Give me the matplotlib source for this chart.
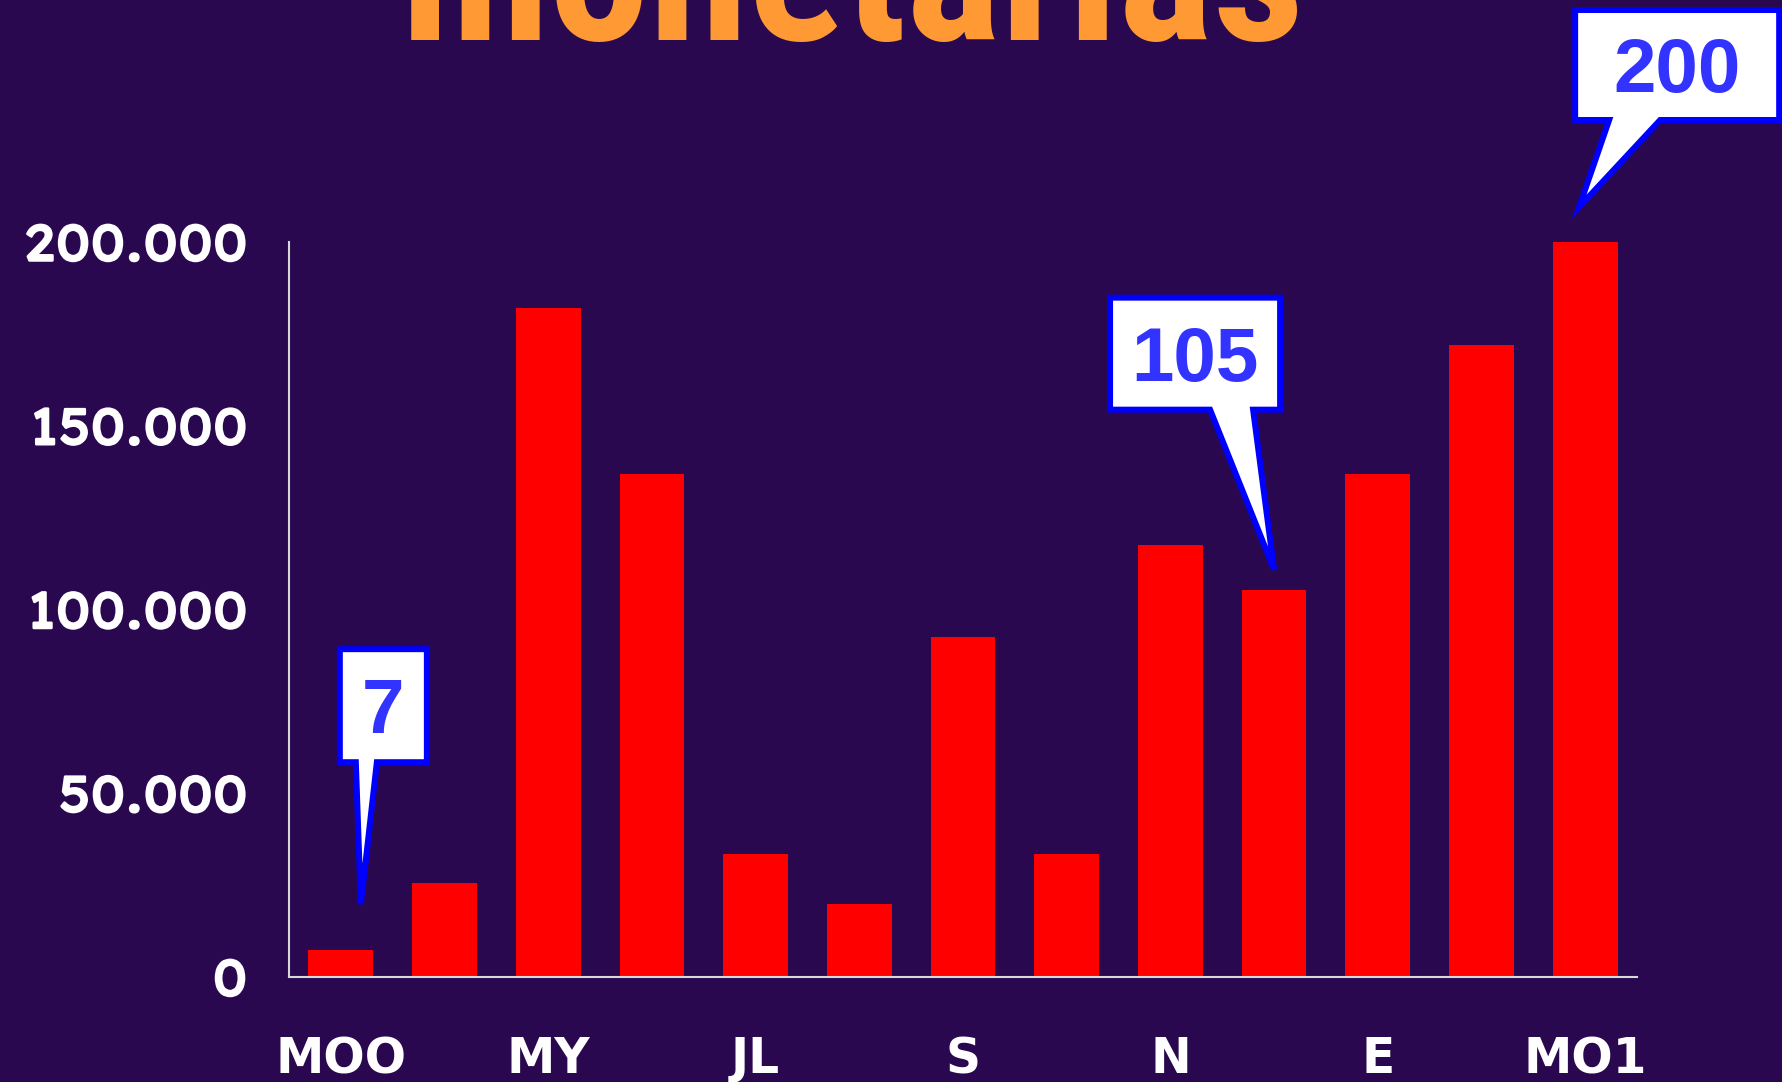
import matplotlib

matplotlib.use("Agg")
import matplotlib.pyplot as plt
import matplotlib.patheffects as pe
from matplotlib import font_manager
from matplotlib.patches import Polygon

# data
bar_values = [7300, 25600, 182000, 137000, 33400, 19800, 92400,
              33400, 117500, 105400, 137000, 171900, 200000]
tick_labels = ["MOO", "MY", "JL", "S", "N", "E", "MO1"]
y_ticks = [0, 50000, 100000, 150000, 200000]
callout_bars = [0, 9, 12]
callout_texts = ["7", "105", "200"]

# callout layout in pixels relative to the tip (image coords, y down):
# tip offset from bar top, box left/right/top/bottom, tail base left/right
callout_layout = [
    dict(tip=(20, -46), box=(-21, 66, -255, -142), base=(-5, 16)),
    dict(tip=(0, -20), box=(-164, 6, -272, -160), base=(-64, -21)),
    dict(tip=(-6, -35), box=(-4, 200, -197, -87), base=(30, 81)),
]

BG = "#2A0850"
W, H = 1782, 1082

installed = {f.name for f in font_manager.fontManager.ttflist}


def pick(*families):
    for fam in families:
        if fam in installed:
            return fam
    return "DejaVu Sans"


narrow = pick("Roboto Condensed", "IBM Plex Sans Condensed", "Barlow Semi Condensed",
              "Archivo Narrow")
wide = pick("Lexend Exa", "Krona One", "Michroma", "DejaVu Sans")

fig = plt.figure(figsize=(W / 100, H / 100), dpi=100, facecolor=BG)
ax = fig.add_axes([289 / W, (H - 977) / H, (1637 - 289) / W, 735 / H])
ax.set_facecolor(BG)

x = range(len(bar_values))
ax.bar(x, bar_values, width=0.625, color="#FF0000", zorder=2)
ax.set_xlim(-0.5, len(bar_values) - 0.5)
ax.set_ylim(0, 200000)

ax.set_xticks(list(x)[::2])
ax.set_xticklabels(tick_labels, fontsize=35, fontweight="bold",
                   family="DejaVu Sans", color="white")
ax.set_yticks(y_ticks)
ax.set_yticklabels([f"{v:,}".replace(",", ".") for v in y_ticks], fontsize=34,
                   fontweight="bold", family=[wide, "DejaVu Sans"], color="white")
ax.tick_params(axis="x", length=0, pad=42)
ax.tick_params(axis="y", length=0, pad=30)
for side in ("top", "right"):
    ax.spines[side].set_visible(False)
for side in ("left", "bottom"):
    ax.spines[side].set_color("#D8D8D8")
    ax.spines[side].set_linewidth(1.5)

# title: fit its width to the reference (about 905 px)
title = fig.text(853 / W, (H - 40) / H, "monetarias", ha="center", va="baseline",
                 fontsize=100, fontweight="bold", family=[narrow, "DejaVu Sans"],
                 color="#FF9933")
renderer = fig.canvas.get_renderer()
tw = title.get_window_extent(renderer).width
title.set_fontsize(100 * 905 / tw)

# y tick labels: fit "200.000" to about 226 px wide, thicken the strokes
fig.canvas.draw()
lab = ax.get_yticklabels()[-1]
lw = lab.get_window_extent(renderer).width
for t in ax.get_yticklabels():
    t.set_fontsize(34 * 224 / lw)
    t.set_path_effects([pe.withStroke(linewidth=1.8, foreground="white")])

# speech-bubble callouts anchored on the bar tops
for idx, label, lay in zip(callout_bars, callout_texts, callout_layout):
    bx, by = ax.transData.transform((idx, bar_values[idx]))
    tx = bx + lay["tip"][0]
    ty = (H - by) + lay["tip"][1]
    L, R, T, B = lay["box"]
    bl, br = lay["base"]
    pts = [(L, T), (R, T), (R, B), (br, B), (0, 0), (bl, B), (L, B)]
    verts = [((tx + px) / W, (H - (ty + py)) / H) for px, py in pts]
    fig.add_artist(Polygon(verts, closed=True, facecolor="white",
                           edgecolor="#0000FF", linewidth=4.3,
                           joinstyle="miter", transform=fig.transFigure,
                           zorder=5))
    cx = tx + (L + R) / 2
    cy = ty + (T + B) / 2 + 27
    fig.text(cx / W, (H - cy) / H, label, ha="center", va="baseline",
             fontsize=55, fontweight="bold",
             family=["Liberation Sans", "DejaVu Sans"], color="#3333FF",
             zorder=6)

fig.savefig("out.png", dpi=100, facecolor=BG)
